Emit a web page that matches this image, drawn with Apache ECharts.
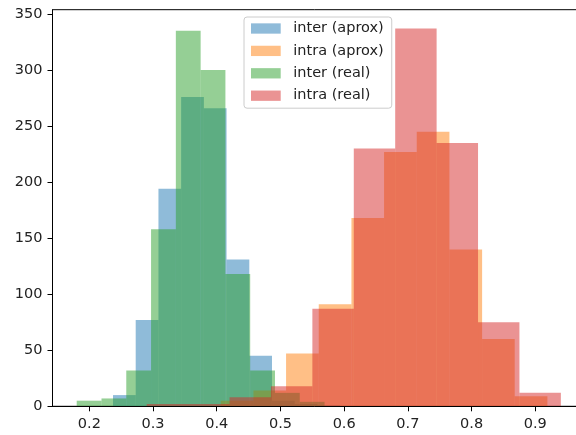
<!DOCTYPE html>
<html>
<head>
<meta charset="utf-8">
<script src="https://cdn.jsdelivr.net/npm/echarts@6/dist/echarts.min.js"></script>
<style>
html,body{margin:0;padding:0;background:#fff;}
#chart{width:576px;height:435px;}
</style>
</head>
<body>
<div id="chart"></div>
<script>
// Series names
const seriesNames = ['inter (aprox)', 'intra (aprox)', 'inter (real)', 'intra (real)'];

// Bin edges (10 bins each) and counts
const interAproxEdges = [0.2372, 0.2728, 0.3085, 0.3441, 0.3798, 0.4154, 0.4511, 0.4867, 0.5224, 0.5580, 0.5936];
const interAproxCounts = [10, 77, 194, 276, 266, 131, 45, 5, 2, 1];

const intraAproxEdges = [0.4063, 0.4576, 0.5088, 0.5601, 0.6114, 0.6626, 0.7139, 0.7652, 0.8165, 0.8677, 0.9190];
const intraAproxCounts = [5, 14, 47, 91, 168, 227, 245, 140, 60, 9];

const interRealEdges = [0.1802, 0.2191, 0.2580, 0.2969, 0.3358, 0.3747, 0.4136, 0.4525, 0.4914, 0.5303, 0.5692];
const interRealCounts = [5, 7, 32, 158, 335, 300, 118, 32, 12, 4];

const intraRealEdges = [0.2901, 0.3551, 0.4201, 0.4851, 0.5501, 0.6151, 0.6801, 0.7451, 0.8101, 0.8751, 0.9401];
const intraRealCounts = [2, 2, 8, 18, 87, 230, 337, 235, 75, 12];

// Tick labels
const xTicks = [0.2, 0.3, 0.4, 0.5, 0.6, 0.7, 0.8, 0.9];
const yTicks = [0, 50, 100, 150, 200, 250, 300, 350];

const colors = ['rgba(31,119,180,0.5)', 'rgba(255,127,14,0.5)', 'rgba(44,160,44,0.5)', 'rgba(214,39,40,0.5)'];
const FONT = 'DejaVu Sans';

function histSeries(name, edges, counts, color) {
  const data = counts.map((c, i) => [edges[i], edges[i + 1], c]);
  return {
    type: 'custom',
    name: name,
    data: data,
    itemStyle: { color: color },
    encode: { x: [0, 1], y: 2 },
    renderItem: function (params, api) {
      const x0 = api.value(0), x1 = api.value(1), c = api.value(2);
      const p0 = api.coord([x0, c]);
      const p1 = api.coord([x1, 0]);
      return {
        type: 'rect',
        shape: { x: p0[0], y: p0[1], width: p1[0] - p0[0], height: p1[1] - p0[1] },
        style: { fill: color }
      };
    }
  };
}

const chart = echarts.init(document.getElementById('chart'), null, { renderer: 'canvas' });
chart.setOption({
  animation: false,
  backgroundColor: '#fff',
  grid: {
    left: 52.5, top: 9.7, bottom: 28.7, right: -9,
    containLabel: false, outerBoundsMode: 'none',
    show: true, borderColor: '#000', borderWidth: 1, backgroundColor: 'transparent'
  },
  xAxis: {
    type: 'value', min: 0.1422, max: 0.978, z: 10,
    axisLine: { show: true, onZero: false, lineStyle: { color: '#000', width: 1 } },
    splitLine: { show: false },
    axisTick: { show: true, length: 5, lineStyle: { color: '#000' }, customValues: xTicks },
    axisLabel: {
      customValues: xTicks, margin: 10, color: '#222', fontSize: 14.5, fontFamily: FONT,
      formatter: v => v.toFixed(1)
    }
  },
  yAxis: {
    type: 'value', min: 0, max: 353.85, z: 10,
    axisLine: { show: true, onZero: false, lineStyle: { color: '#000', width: 1 } },
    splitLine: { show: false },
    axisTick: { show: true, length: 5, lineStyle: { color: '#000' }, customValues: yTicks },
    axisLabel: {
      customValues: yTicks, margin: 10, color: '#222', fontSize: 14.5, fontFamily: FONT,
      formatter: v => String(v)
    }
  },
  legend: {
    orient: 'vertical', left: 244, top: 17,
    data: seriesNames,
    icon: 'rect', itemWidth: 29.7, itemHeight: 10.3, itemGap: 7.4,
    padding: [4, 8, 5, 7],
    backgroundColor: 'rgba(255,255,255,0.8)', borderColor: '#cccccc', borderWidth: 1, borderRadius: 3,
    textStyle: { fontSize: 14.5, fontFamily: FONT, color: '#222', lineHeight: 15, padding: [0, 0, 0, 7.6] },
    selectedMode: false
  },
  series: [
    histSeries(seriesNames[0], interAproxEdges, interAproxCounts, colors[0]),
    histSeries(seriesNames[1], intraAproxEdges, intraAproxCounts, colors[1]),
    histSeries(seriesNames[2], interRealEdges, interRealCounts, colors[2]),
    histSeries(seriesNames[3], intraRealEdges, intraRealCounts, colors[3])
  ]
});
</script>
</body>
</html>
